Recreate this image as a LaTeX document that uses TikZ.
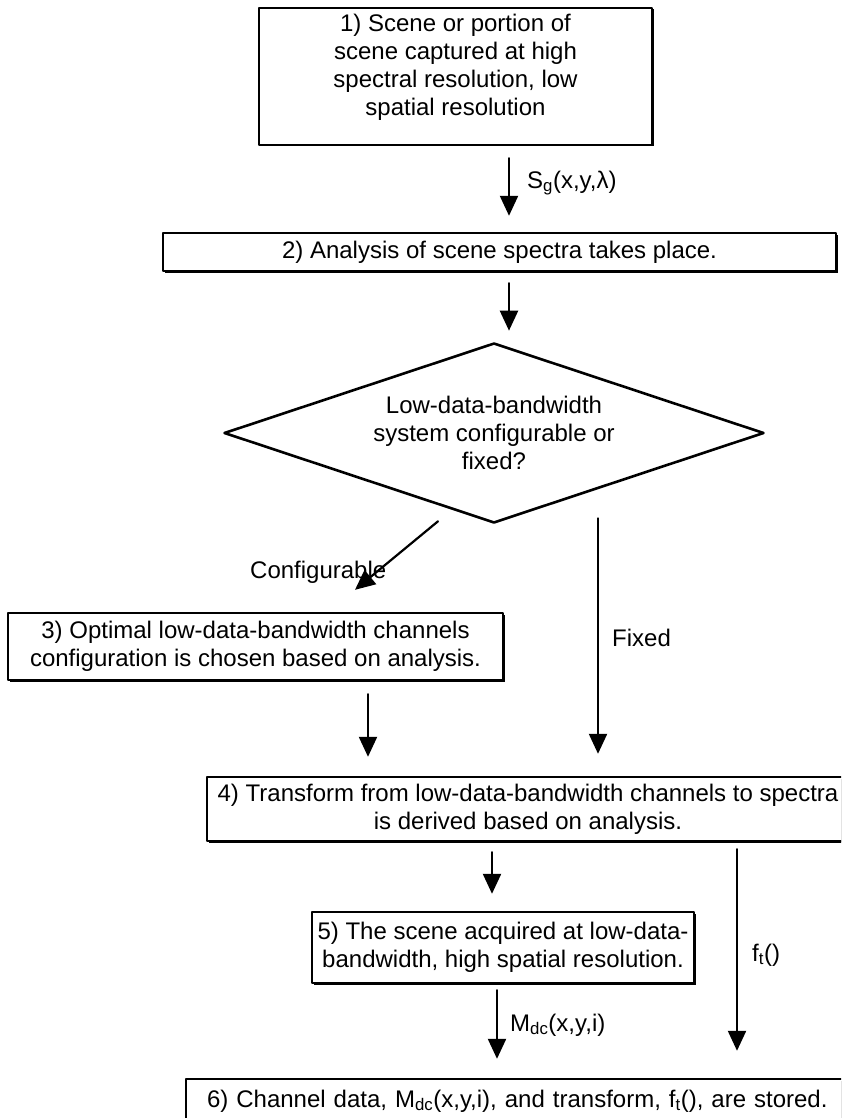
\documentclass[tikz,border=0pt]{standalone}
\usepackage{fontspec}
\setmainfont{Liberation Sans}
\usetikzlibrary{arrows.meta}
\usetikzlibrary{shapes.geometric}
\usetikzlibrary{shadows}

\begin{document}
\begin{tikzpicture}[x=1pt,y=-1pt,line cap=round,line join=round,>={Triangle[width=18pt,length=20pt]},
  every node/.style={font=\fontsize{24}{28}\selectfont},
  stepbox/.style={draw,fill=white,line width=2.4pt,inner sep=0pt,align=center,
    drop shadow={shadow xshift=1.5pt,shadow yshift=-1.5pt,opacity=1,fill=black}},
  decision/.style={diamond,draw,line width=2.6pt,shape aspect=3,minimum width=540pt,
    minimum height=180pt,inner sep=0pt,align=center},
  flow/.style={->,line width=2.2pt},
  lbl/.style={inner sep=0pt}]
\useasboundingbox (0,0) rectangle (841,1118);
\clip (0,0) rectangle (841,1118);
% steps
\node[stepbox,minimum width=393pt,minimum height=137pt,text height=100pt,text depth=22pt] (scene) at (455.5,76.5)
  {1) Scene or portion of\\scene captured at high\\spectral resolution, low\\spatial resolution};
\node[stepbox,minimum width=673pt,minimum height=38pt] (analysis) at (499.5,252)
  {2) Analysis of scene spectra takes place.};
\node[decision] (choice) at (494,433) {Low-data-bandwidth\\system configurable or\\fixed?};
\node[stepbox,minimum width=495pt,minimum height=67pt] (config) at (255.5,646.5)
  {3) Optimal low-data-bandwidth channels\\configuration is chosen based on analysis.};
\node[stepbox,minimum width=642pt,minimum height=64pt] (transform) at (528,809)
  {4) Transform from low-data-bandwidth channels to spectra\\is derived based on analysis.};
\node[stepbox,minimum width=382pt,minimum height=71pt] (acquire) at (503,947.5)
  {5) The scene acquired at low-data-\\bandwidth, high spatial resolution.};
\node[stepbox,minimum height=44pt,inner xsep=21pt,text width=632pt,align=left] (store) at (523,1101)
  {6) Channel data, M\textsubscript{dc}(x,y,i), and transform, f\textsubscript{t}(), are stored.};
% connectors
\draw[flow] ([xshift=53.5pt,yshift=-12pt]scene.south) -- ([xshift=9.5pt,yshift=16pt]analysis.north);
\draw[flow] ([xshift=9.5pt,yshift=-11pt]analysis.south) -- ([xshift=15pt,yshift=11pt]choice.north);
\draw[flow] ([xshift=-56pt,yshift=3pt]choice.south) -- ([xshift=99.5pt,yshift=22pt]config.north);
\draw[flow] ([xshift=104pt,yshift=6pt]choice.south) -- ([xshift=70pt,yshift=22pt]transform.north);
\draw[flow] ([xshift=112.5pt,yshift=-13pt]config.south) -- ([xshift=-160pt,yshift=19pt]transform.north);
\draw[flow] ([xshift=-36pt,yshift=-10pt]transform.south) -- ([xshift=-11pt,yshift=17pt]acquire.north);
\draw[flow] ([xshift=-6pt,yshift=-6pt]acquire.south) -- ([xshift=-26pt,yshift=19pt]store.north);
\draw[flow] ([xshift=209pt,yshift=-7pt]transform.south) -- ([xshift=214pt,yshift=27pt]store.north);
% labels
\node[lbl,anchor=west] (sg) at (527,183) {S\textsubscript{g}(x,y,λ)};
\node[lbl,anchor=west] (cfg) at (250,572) {Configurable};
\node[lbl,anchor=west] (fix) at (612,638) {Fixed};
\node[lbl,anchor=west] (mdc) at (510,1025) {M\textsubscript{dc}(x,y,i)};
\node[lbl,anchor=west] (ft) at (752,955) {f\textsubscript{t}()};
\end{tikzpicture}
\end{document}
